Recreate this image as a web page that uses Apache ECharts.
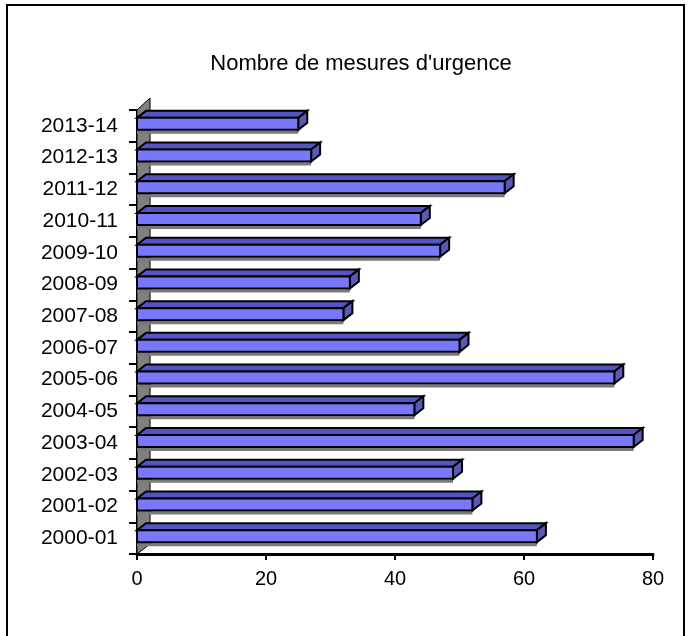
<!DOCTYPE html>
<html>
<head>
<meta charset="utf-8">
<script src="https://cdn.jsdelivr.net/npm/echarts@6/dist/echarts.min.js"></script>
<style>
  html, body { margin: 0; padding: 0; background: #fff; }
  #chart { width: 693px; height: 636px; }
</style>
</head>
<body>
<div id="chart"></div>
<script>
// categories bottom to top
const seasons = ['2000-01', '2001-02', '2002-03', '2003-04', '2004-05', '2005-06', '2006-07',
  '2007-08', '2008-09', '2009-10', '2010-11', '2011-12', '2012-13', '2013-14']
const mesures = [62, 52, 49, 77, 43, 74, 50, 32, 33, 47, 44, 57, 27, 25]
const xTicks = [0, 20, 40, 60, 80]

const chart = echarts.init(document.getElementById('chart'))

// 3d-ish bar: front face, top face, end face, little shadow underneath
const renderBar = (params, api) => {
  const v = api.value(0)
  const ci = api.value(1)
  const p0 = api.coord([0, ci])
  const p1 = api.coord([v, ci])
  const x0 = p0[0], x1 = p1[0], yc = p0[1]
  const top = yc - 8, bot = yc + 4
  const dx = 9, dy = 7
  const line = { stroke: '#000', lineWidth: 2, lineJoin: 'miter' }
  return {
    type: 'group',
    children: [
      { type: 'rect', shape: { x: x0, y: bot + 1, width: x1 - x0, height: 3 }, style: { fill: '#7a7a7a' } },
      { type: 'polygon', shape: { points: [[x0, top], [x0 + dx, top - dy], [x1 + dx, top - dy], [x1, top]] },
        style: Object.assign({ fill: '#5454c4' }, line) },
      { type: 'polygon', shape: { points: [[x1, top], [x1 + dx, top - dy], [x1 + dx, bot - dy], [x1, bot]] },
        style: Object.assign({ fill: '#5a5ab4' }, line) },
      { type: 'rect', shape: { x: x0, y: top, width: x1 - x0, height: bot - top },
        style: Object.assign({ fill: '#7878f8' }, line) }
    ]
  }
}

// grey side wall behind the category axis
const renderWall = (params) => {
  const cs = params.coordSys
  const x = cs.x, y = cs.y, h = cs.height
  return {
    type: 'polygon',
    shape: { points: [[x, y + h], [x + 13, y + h - 10], [x + 13, y - 12], [x, y]] },
    style: { fill: '#808080', stroke: '#000', lineWidth: 1 }
  }
}

const option = {
  animation: false,
  backgroundColor: '#fff',
  title: {
    text: "Nombre de mesures d'urgence",
    left: 356,
    top: 48,
    textAlign: 'center',
    textStyle: { fontFamily: 'Liberation Sans, Arial', fontSize: 22, fontWeight: 'normal', color: '#000' }
  },
  graphic: [
    { type: 'rect', shape: { x: 7, y: 5, width: 677, height: 660 },
      style: { fill: 'none', stroke: '#000', lineWidth: 2 }, z: 100 }
  ],
  grid: { left: 137, right: 40, top: 110, bottom: 82 },
  xAxis: {
    type: 'value',
    min: xTicks[0],
    max: xTicks[xTicks.length - 1],
    interval: 20,
    splitLine: { show: false },
    axisLine: { show: true, lineStyle: { color: '#000', width: 3 } },
    axisTick: { show: true, length: 6, lineStyle: { color: '#000', width: 2 } },
    axisLabel: { color: '#000', fontSize: 20, fontFamily: 'Liberation Sans, Arial', margin: 15 }
  },
  yAxis: {
    type: 'category',
    data: seasons,
    axisLine: { show: true, lineStyle: { color: '#000', width: 2 } },
    axisTick: { show: true, length: 8, lineStyle: { color: '#000', width: 2 } },
    axisLabel: { color: '#000', fontSize: 21, fontFamily: 'Liberation Sans, Arial', margin: 19 }
  },
  series: [
    {
      type: 'custom',
      renderItem: renderWall,
      data: [[0, 0]],
      z: 1
    },
    {
      type: 'custom',
      renderItem: renderBar,
      encode: { x: 0, y: 1 },
      data: mesures.map((v, i) => [v, i]),
      z: 2
    }
  ]
}

chart.setOption(option)
</script>
</body>
</html>
